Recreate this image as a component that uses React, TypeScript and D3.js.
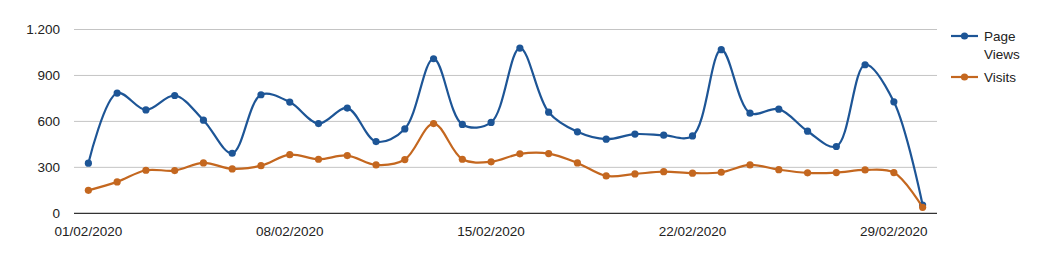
import React from "react";
import * as d3 from "d3";

const dates = [
  "01/02/2020","02/02/2020","03/02/2020","04/02/2020","05/02/2020","06/02/2020","07/02/2020",
  "08/02/2020","09/02/2020","10/02/2020","11/02/2020","12/02/2020","13/02/2020","14/02/2020",
  "15/02/2020","16/02/2020","17/02/2020","18/02/2020","19/02/2020","20/02/2020","21/02/2020",
  "22/02/2020","23/02/2020","24/02/2020","25/02/2020","26/02/2020","27/02/2020","28/02/2020",
  "29/02/2020","01/03/2020",
];
const pageViews = [
  327, 785, 675, 769, 608, 392, 774, 726, 586, 687,
  468, 551, 1009, 580, 593, 1079, 660, 532, 484, 517,
  510, 505, 1068, 654, 680, 536, 436, 970, 728, 54,
];
const visits = [
  150, 205, 281, 279, 329, 290, 311, 383, 353, 377,
  316, 351, 586, 353, 336, 388, 390, 329, 244, 257,
  272, 262, 268, 316, 285, 264, 266, 283, 266, 39,
];
const yTicks = [0, 300, 600, 900, 1200];
const yTickLabels = ["0", "300", "600", "900", "1.200"];
const xTickLabels = ["01/02/2020", "08/02/2020", "15/02/2020", "22/02/2020", "29/02/2020"];
const seriesNames = [["Page", "Views"], ["Visits"]];
const colors = ["#1d5596", "#c4671f"];

export default function App() {
  const W = 1052, H = 254;
  const left = 74, right = 937, top = 29.5, bottom = 213.3;
  const x = d3.scaleBand<string>().domain(dates).range([left, right]);
  const y = d3.scaleLinear().domain([0, 1200]).range([bottom, top]);
  const cx = (i: number) => (x(dates[i]) as number) + x.bandwidth() / 2;
  const line = d3
    .line<number>()
    .x((_, i) => cx(i))
    .y((d) => y(d))
    .curve(d3.curveCatmullRom.alpha(0.5));
  const series = [pageViews, visits];
  const font = "'Liberation Sans', Arial, sans-serif";
  const legendY = [36, 77];
  return (
    <svg
      width={W}
      height={H}
      style={{ position: "absolute", left: 0, top: 0, background: "#fff" }}
      fontFamily={font}
    >
      {yTicks.map((t, i) => (
        <g key={t}>
          {t !== 0 && (
            <line x1={left} x2={right} y1={y(t)} y2={y(t)} stroke="#c4c4c4" strokeWidth={1} />
          )}
          <text
            x={60}
            y={y(t)}
            textAnchor="end"
            dominantBaseline="central"
            fontSize={13.5}
            fill="#222"
          >
            {yTickLabels[i]}
          </text>
        </g>
      ))}
      {series.map((s, si) => (
        <g key={si}>
          <path d={line(s) || ""} fill="none" stroke={colors[si]} strokeWidth={2.2} />
          {s.map((v, i) => (
            <circle key={i} cx={cx(i)} cy={y(v)} r={3.6} fill={colors[si]} />
          ))}
        </g>
      ))}
      <line x1={left} x2={right} y1={bottom} y2={bottom} stroke="#333" strokeWidth={1.2} />
      {xTickLabels.map((lab) => {
        const i = dates.indexOf(lab);
        return (
          <text
            key={lab}
            x={cx(i)}
            y={231}
            textAnchor="middle"
            dominantBaseline="central"
            fontSize={13.5}
            fill="#222"
          >
            {lab}
          </text>
        );
      })}
      {seriesNames.map((names, si) => (
        <g key={si}>
          <line x1={951} x2={978} y1={legendY[si]} y2={legendY[si]} stroke={colors[si]} strokeWidth={2.2} />
          <circle cx={964.5} cy={legendY[si]} r={3.6} fill={colors[si]} />
          {names.map((n, k) => (
            <text
              key={k}
              x={984}
              y={legendY[si] + k * 18}
              dominantBaseline="central"
              fontSize={13.5}
              fill="#222"
            >
              {n}
            </text>
          ))}
        </g>
      ))}
    </svg>
  );
}
